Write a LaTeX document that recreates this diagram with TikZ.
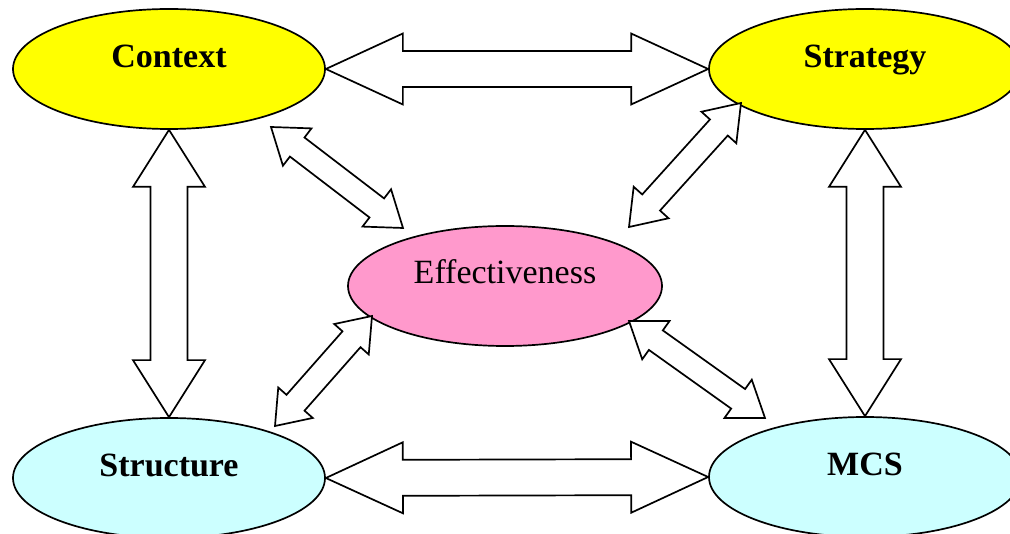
\documentclass[tikz,border=0pt]{standalone}
\usepackage{fontspec}
\setmainfont{Liberation Serif}
\usetikzlibrary{shapes.geometric,calc}
\definecolor{ctxyellow}{HTML}{FFFF00}
\definecolor{effpink}{HTML}{FF99CC}
\definecolor{lowcyan}{HTML}{CCFFFF}
% #1 from, #2 to, #3 head length, #4 head half width, #5 shaft half width
\newcommand{\blockarrow}[5]{%
  \path[blockarr] let \p1=(#1), \p2=(#2),
    \n1={atan2(\y2-\y1,\x2-\x1)}, \n2={veclen(\x2-\x1,\y2-\y1)} in
    {[shift={(\p1)}, rotate=\n1]
     (0,0) -- (#3,#4) -- (#3,#5) -- ({\n2-#3},#5) -- ({\n2-#3},#4) -- (\n2,0)
     -- ({\n2-#3},-#4) -- ({\n2-#3},-#5) -- (#3,-#5) -- (#3,-#4) -- cycle};
}
\tikzset{
  ell/.style={ellipse, draw=black, line width=1.7pt, minimum width=312pt,
    minimum height=120pt, inner sep=0pt},
  boldlabel/.style={font=\fontsize{34}{40}\selectfont\bfseries,
    text height=24pt, text depth=27pt},
  plainlabel/.style={font=\fontsize{34}{40}\selectfont,
    text height=24pt, text depth=28pt},
  blockarr/.style={draw=black, fill=white, line width=1.7pt, line join=miter},
}
\begin{document}
\begin{tikzpicture}[x=1pt, y=-1pt]
\clip (0,0) rectangle (1010,534);
\fill[white] (0,0) rectangle (1010,534);
% ellipses
\node[ell, boldlabel, fill=ctxyellow] (ctx) at (169,69) {Context};
\node[ell, boldlabel, fill=ctxyellow] (str) at (865,69) {Strategy};
\node[ell, boldlabel, fill=lowcyan] (stc) at (169,478) {Structure};
\node[ell, boldlabel, fill=lowcyan] (mcs) at (865,477) {MCS};
\node[ell, plainlabel, fill=effpink, minimum width=314pt] (eff) at (505,286) {Effectiveness};
% diagonal arrow end points
\coordinate (ul1) at (271,127);
\coordinate (ul2) at (403,228);
\coordinate (ur1) at (741,103);
\coordinate (ur2) at (629,227);
\coordinate (ll1) at (372,316);
\coordinate (ll2) at (275,426);
\coordinate (lr1) at (629,321);
\coordinate (lr2) at (765,418);
% horizontal arrows
\blockarrow{ctx.east}{str.west}{77}{35.5}{18}
\blockarrow{stc.east}{mcs.west}{77}{35.5}{18}
% vertical arrows
\blockarrow{ctx.south}{stc.north}{57}{36}{18.5}
\blockarrow{str.south}{mcs.north}{57}{36}{18.5}
% diagonal arrows
\blockarrow{ul1}{ul2}{33}{23.5}{12}
\blockarrow{ur1}{ur2}{33}{23.5}{12}
\blockarrow{ll1}{ll2}{31}{23}{12}
\blockarrow{lr1}{lr2}{33}{23.5}{12}
\end{tikzpicture}
\end{document}
